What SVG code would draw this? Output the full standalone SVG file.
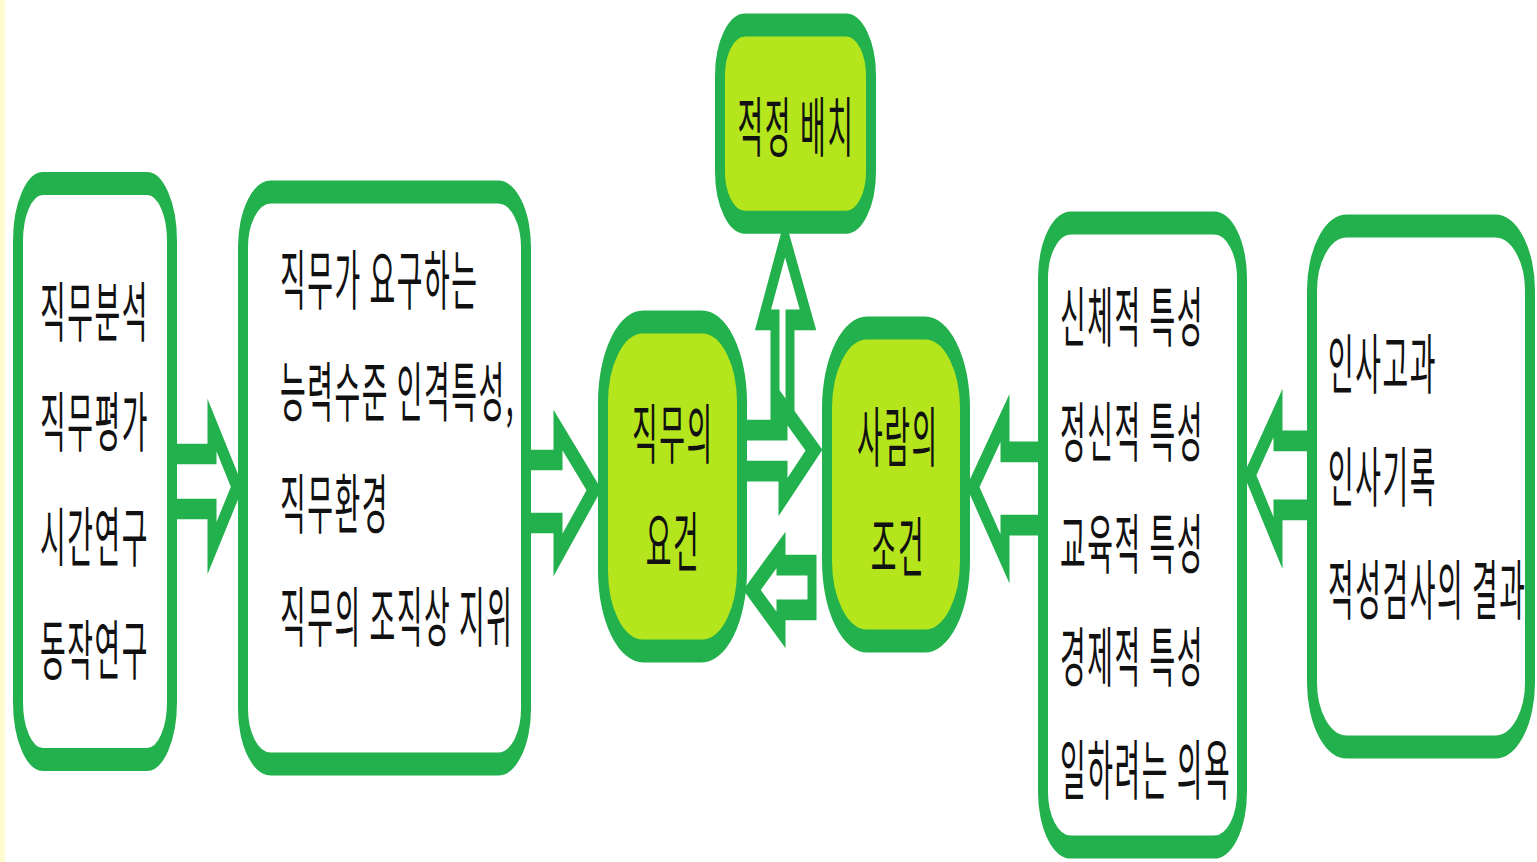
<svg xmlns="http://www.w3.org/2000/svg" width="1537" height="862" viewBox="0 0 1537 862">
<style>
.box{fill:#ffffff;stroke:#22b14c;stroke-width:10}
.lime{fill:#b5e61d;stroke:#22b14c;stroke-width:10}
.arr{fill:#ffffff;stroke:#22b14c;stroke-width:9;stroke-linejoin:miter;stroke-miterlimit:10}
.t{font-family:"Noto Sans CJK KR","Noto Sans",sans-serif;font-size:28px;letter-spacing:1.5px;fill:#111111}
.c{text-anchor:middle}
</style>
<rect x="0" y="0" width="1537" height="862" fill="#ffffff"/>
<rect x="0" y="0" width="5" height="862" fill="#fffbd0"/>
<g transform="scale(1,2.3)">
<g id="connectors">
<polygon class="arr" points="172,197.4 212,197.4 212,184.8 237,211.7 212,238.3 212,221.3 172,221.3"/>
<polygon class="arr" points="526,200 558,200 558,187 594,213 558,241.3 558,227.4 526,227.4"/>
<polygon class="arr" points="775,187 775,139.1 763,139.1 785,103.5 808,139.1 790,139.1 790,187"/>
<polygon class="arr" points="742,187 783,187 783,177 814,195.7 783,216.1 783,204.8 742,204.8"/>
<polygon class="arr" points="812,245.7 781,245.7 781,239.1 752,256.5 781,273.9 781,265.2 812,265.2"/>
<polygon class="arr" points="1043,196.5 1005,196.5 1005,181.7 973,211.7 1005,243 1005,228.3 1043,228.3"/>
<polygon class="arr" points="1312,191.7 1278,191.7 1278,179.6 1250,206.5 1278,236.1 1278,221.7 1312,221.7"/>
</g>
<g id="job-analysis">
<rect class="box" x="18" y="79.8" width="154" height="250.4" rx="25" ry="25"/>
<text class="t" x="40" y="146.1">직무분석</text>
<text class="t" x="40" y="193.9">직무평가</text>
<text class="t" x="40" y="243.9">시간연구</text>
<text class="t" x="40" y="293">동작연구</text>
</g>
<g id="job-requirements-detail">
<rect class="box" x="243" y="83.5" width="283" height="248.7" rx="28" ry="24"/>
<text class="t" x="280" y="132.2">직무가 요구하는</text>
<text class="t" x="280" y="180.9">능력수준 인격특성,</text>
<text class="t" x="280" y="229.6">직무환경</text>
<text class="t" x="280" y="278.7">직무의 조직상 지위</text>
</g>
<g id="job-requirements">
<rect class="lime" x="603" y="140" width="139" height="143" rx="40" ry="35"/>
<text class="t c" x="673" y="199.1">직무의</text>
<text class="t c" x="673" y="246.1">요건</text>
</g>
<g id="placement">
<rect class="lime" x="720" y="10.9" width="151" height="85.7" rx="25" ry="22"/>
<text class="t c" x="796" y="65.7">적정 배치</text>
</g>
<g id="person-conditions">
<rect class="lime" x="827" y="142.6" width="138" height="136.1" rx="40" ry="35"/>
<text class="t c" x="898" y="200.4">사람의</text>
<text class="t c" x="898" y="248.3">조건</text>
</g>
<g id="person-traits">
<rect class="box" x="1043" y="97" width="199" height="271.3" rx="28" ry="24"/>
<text class="t" x="1060" y="148.3">신체적 특성</text>
<text class="t" x="1060" y="198.3">정신적 특성</text>
<text class="t" x="1060" y="247">교육적 특성</text>
<text class="t" x="1060" y="296.1">경제적 특성</text>
<text class="t" x="1060" y="345.2">일하려는 의욕</text>
</g>
<g id="personnel-records">
<rect class="box" x="1312" y="98.3" width="218" height="226.5" rx="35" ry="28"/>
<text class="t" x="1328" y="168.7">인사고과</text>
<text class="t" x="1328" y="217.8">인사기록</text>
<text class="t" x="1328" y="267">적성검사의 결과</text>
</g>
</g>
</svg>
